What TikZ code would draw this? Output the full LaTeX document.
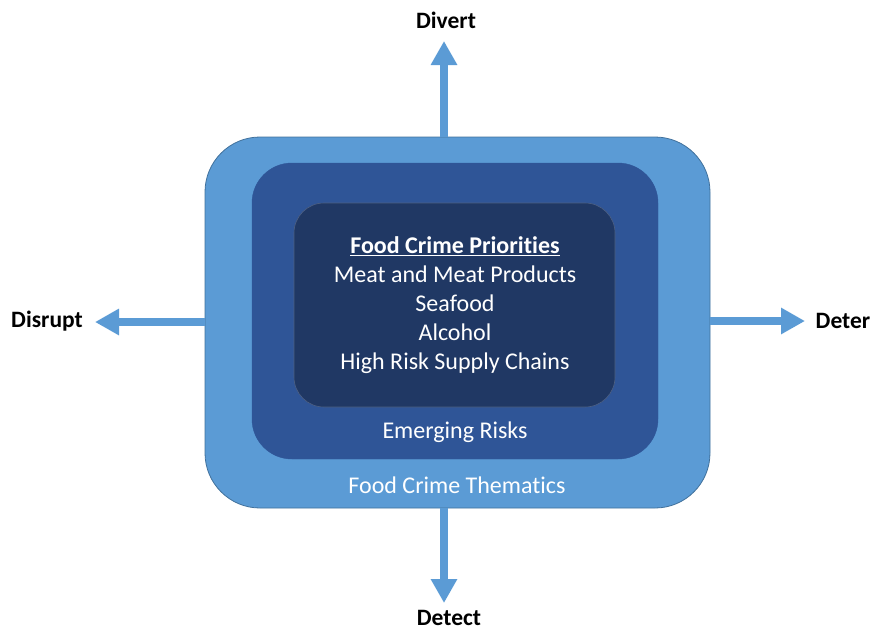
\documentclass[tikz,border=0pt]{standalone}
\usepackage{fontspec}
\setmainfont[Ligatures={NoCommon}]{Carlito}
\usetikzlibrary{arrows.meta}
\definecolor{lightblue}{HTML}{5B9BD5}
\definecolor{midblue}{HTML}{2F5597}
\definecolor{darkblue}{HTML}{203864}
\definecolor{edgeblue}{HTML}{41719C}
\begin{document}
\begin{tikzpicture}[x=1pt,y=-1pt,
  arr/.style={draw=lightblue,line width=8pt,-{Triangle[width=25pt,length=24pt]}},
  lbl/.style={font=\fontsize{23.5}{28}\selectfont\bfseries,text=black},
  intext/.style={text=white,font=\fontsize{24}{29}\selectfont}]
\useasboundingbox (0,0) rectangle (872,630);
% nested layers
\filldraw[fill=lightblue,draw=edgeblue,line width=0.8pt,rounded corners=55pt] (205,137) rectangle (710,508);
\filldraw[fill=midblue,draw=midblue,rounded corners=40pt] (252,163) rectangle (658,459);
\filldraw[fill=darkblue,draw=darkblue!80!white,line width=0.6pt,rounded corners=30pt] (294,203) rectangle (615,407);
\node[coordinate] (outerN) at (444,137) {};
\node[coordinate] (outerS) at (444,508) {};
\node[coordinate] (outerW) at (205,322) {};
\node[coordinate] (outerE) at (710,321) {};
% texts
\node[intext,align=center] (prio) at (455,305.5) {\textbf{\underline{Food Crime Priorities}}\\Meat and Meat Products\\Seafood\\Alcohol\\High Risk Supply Chains};
\node[intext] (emerg) at (455,432) {Emerging Risks};
\node[intext] (them) at (457,485) {Food Crime Thematics};
% labels
\node[lbl] (divert) at (446,20) {Divert};
\node[lbl] (disrupt) at (47,321) {Disrupt};
\node[lbl] (deter) at (843,321) {Deter};
\node[lbl] (detect) at (449,618) {Detect};
\coordinate (tipN) at (444,41);
\coordinate (tipW) at (95,322);
\coordinate (tipE) at (805,321);
\coordinate (tipS) at (444,603);
\draw[arr] (outerN) -- (tipN);
\draw[arr] (outerW) -- (tipW);
\draw[arr] (outerE) -- (tipE);
\draw[arr] (outerS) -- (tipS);
\end{tikzpicture}
\end{document}
